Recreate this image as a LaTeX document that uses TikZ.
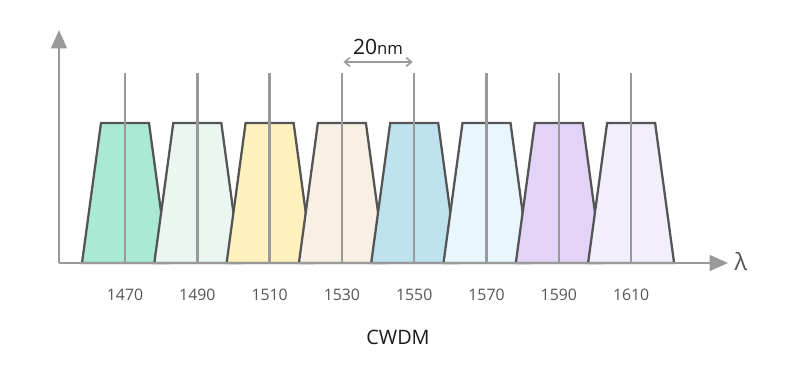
\documentclass[tikz,border=0pt]{standalone}
\usepackage{fontspec}
\setmainfont{Open Sans}
\usetikzlibrary{arrows.meta}

\definecolor{axisgray}{HTML}{9A9A9A}
\definecolor{bandedge}{HTML}{555555}
\definecolor{chA}{HTML}{AAEAD4}
\definecolor{chB}{HTML}{EAF6F0}
\definecolor{chC}{HTML}{FFF2BE}
\definecolor{chD}{HTML}{F8F0E4}
\definecolor{chE}{HTML}{BEE3EE}
\definecolor{chF}{HTML}{E9F6FD}
\definecolor{chG}{HTML}{E3D4F7}
\definecolor{chH}{HTML}{F2EEFC}

\begin{document}
\begin{tikzpicture}[x=0.02cm,y=0.02cm,
    axis/.style={draw=axisgray,line width=1.4pt,-{Triangle[width=9pt,length=10.5pt]}},
    band/.style={draw=bandedge,line width=1.3pt,line join=miter},
    chline/.style={draw=axisgray,line width=1.45pt},
    dimline/.style={draw=axisgray,line width=0.9pt,{Straight Barb[length=3pt,width=5pt]}-{Straight Barb[length=3pt,width=5pt]}},
    tick/.style={text=bandedge,font=\fontsize{9}{11}\selectfont}]
  \useasboundingbox (0,0) rectangle (800,373);

  % channels, one per 20nm
  \foreach \w/\c [count=\i from 0] in {1470/chA,1490/chB,1510/chC,1530/chD,
                                       1550/chE,1570/chF,1590/chG,1610/chH}{
    \pgfmathsetmacro\cx{125+72.3*\i}
    \coordinate (b\w) at (\cx,110);
    \coordinate (t\w) at (\cx,300);
    \filldraw[band,fill=\c] (\cx-43,110) -- (\cx-24,250) -- (\cx+24,250) -- (\cx+43,110) -- cycle;
    \draw[chline] (b\w) -- (t\w);
    \node[tick] (l\w) at (\cx,78) {\w};
  }

  % axes
  \coordinate (o) at (59,110);
  \coordinate (ytip) at (59,343);
  \coordinate (xtip) at (728,110);
  \draw[axis] (o) -- (ytip);
  \draw[axis] (o) -- (xtip);
  \node[text=bandedge,font=\fontsize{13.5}{15}\selectfont] (lam) at (741,111) {λ};

  % spacing
  \path (t1530) ++(1.5,11) coordinate (d1);
  \path (t1550) ++(-1.5,11) coordinate (d2);
  \draw[dimline] (d1) -- (d2);
  \node[text=black!90] (gap) at (378,326) {{\fontsize{12}{13}\selectfont 20}{\fontsize{9.5}{11}\selectfont nm}};

  \node[text=black!90,font=\fontsize{11.3}{13}\selectfont] (title) at (398,36) {CWDM};
\end{tikzpicture}
\end{document}
